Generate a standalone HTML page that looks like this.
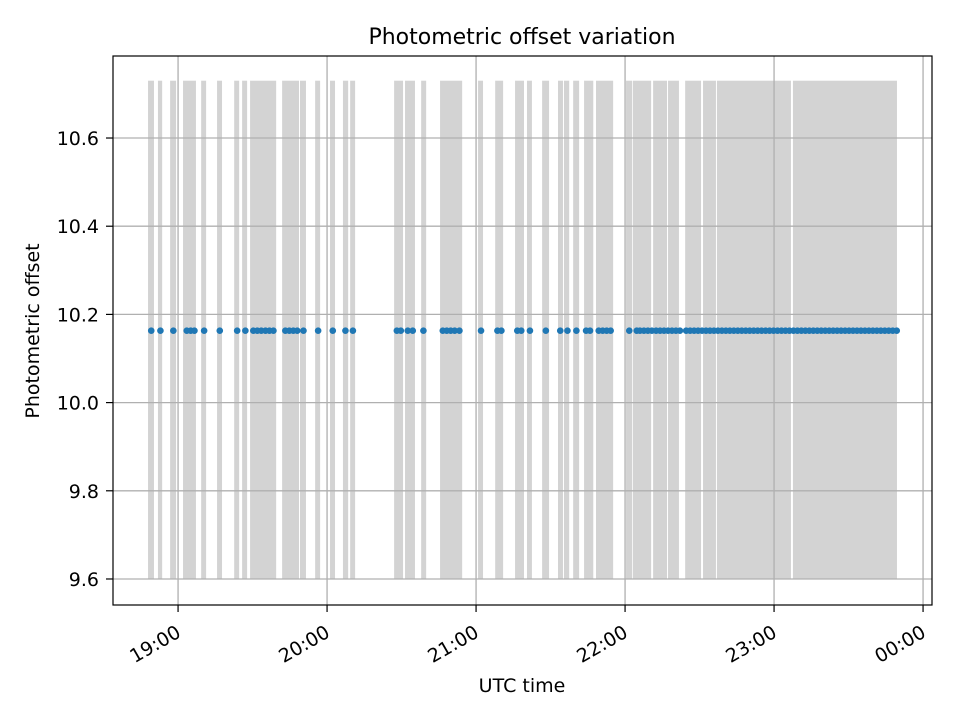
<!DOCTYPE html>
<html><head><meta charset="utf-8"><style>body{margin:0;background:#fff}svg{display:block;font-family:"DejaVu Sans","Liberation Sans",sans-serif}</style></head>
<body>
<svg id="chart" width="960" height="720" viewBox="0 0 960 720">
<rect x="0" y="0" width="960" height="720" fill="#fff"/>
<g id="spans"></g>
<g id="grid"></g>
<g id="points"></g>
<rect x="113" y="56" width="819" height="549" fill="none" stroke="#000" stroke-width="1.2"/>
<g id="axes"></g>
<text x="522" y="44" text-anchor="middle" font-size="22">Photometric offset variation</text>
<text x="522" y="692" text-anchor="middle" font-size="19">UTC time</text>
<text transform="translate(39,331) rotate(-90)" text-anchor="middle" font-size="19">Photometric offset</text>
</svg>
<script>
// time values in minutes after 18:00 UTC
const spanStart = [47.9,51.9,56.8,62.0,69.3,75.7,82.6,85.8,89.0,101.9,109.1,115.2,121.2,126.4,129.3,147.0,151.4,157.9,165.5,180.8,187.7,195.7,200.5,206.6,213.0,215.4,219.1,223.5,228.3,240.4,243.2,251.3,257.3,264.2,271.4,277.0,307.6];
const spanEnd   = [50.3,53.6,59.2,67.2,71.3,77.7,84.6,87.8,99.5,108.7,111.5,117.2,123.2,128.5,131.3,150.6,155.4,159.9,174.4,182.8,190.9,199.3,202.5,209.4,215.0,217.5,221.5,227.2,235.2,242.9,250.5,256.9,261.7,270.6,276.6,306.8,349.5];
const spanLow = 9.6, spanHigh = 10.73;
const pointTimes = [49.2,52.9,58.1,63.5,65.1,66.6,70.5,76.8,83.8,87.1,90.3,91.9,93.5,95.2,96.8,98.4,103.2,104.8,106.4,108.0,110.5,116.4,122.3,127.4,130.4,
148.1,149.7,152.5,154.5,158.8,166.6,168.2,169.8,171.4,173.3,182.0,188.6,190.2,196.6,198.2,201.7,208.1,213.9,216.8,220.4,224.3,225.9,229.4,231.0,232.6,234.2,241.7,244.7,
246.0,247.6,249.2,250.8,252.5,254.1,255.7,257.3,258.9,260.5,262.1,
264.6,266.2,267.8,269.4,271.0,272.6,274.2,275.8,277.4,279.0,280.6,282.2,283.8,285.4,287.0,288.6,290.2,291.8,293.4,295.0,296.6,298.2,299.8,301.4,303.0,304.6,306.2,307.8,309.4,311.0,312.6,314.2,315.8,317.4,319.0,320.6,322.2,323.8,325.4,327.0,328.6,330.2,331.8,333.4,335.0,336.6,338.2,339.8,341.4,343.0,344.6,346.2,347.8,349.4];
const pointValues = pointTimes.map(()=>10.163);
const xTickValues = [60,120,180,240,300,360];
const xTickLabels = ["19:00","20:00","21:00","22:00","23:00","00:00"];
const yTickValues = [9.6,9.8,10.0,10.2,10.4,10.6];
const yTickLabels = ["9.6","9.8","10.0","10.2","10.4","10.6"];

const L=113,R=932,T=56,B=605;
const xMin=33.8,xMax=363.6,yMin=9.541,yMax=10.786;
const X=v=>L+(v-xMin)/(xMax-xMin)*(R-L);
const Y=v=>B-(v-yMin)/(yMax-yMin)*(B-T);
const NS="http://www.w3.org/2000/svg";
function mk(tag,attrs,parent){const e=document.createElementNS(NS,tag);for(const k in attrs)e.setAttribute(k,attrs[k]);parent.appendChild(e);return e;}
const gs=document.getElementById('spans'),gg=document.getElementById('grid'),gp=document.getElementById('points'),ga=document.getElementById('axes');
spanStart.forEach((s,i)=>{
  const r=mk('rect',{x:X(s),y:Y(spanHigh),width:Math.max(1,X(spanEnd[i])-X(s)),height:Y(spanLow)-Y(spanHigh),fill:'#d3d3d3'},gs);
  
  
});
xTickValues.forEach((v,i)=>{
  const x=X(v);
  const g=mk('line',{x1:x,x2:x,y1:T,y2:B,stroke:'#b0b0b0','stroke-width':1.3},gg);
  
  
  const t=mk('line',{x1:x,x2:x,y1:B,y2:B+7,stroke:'#000','stroke-width':1.2},ga);
  
  
  const lb=mk('text',{transform:`translate(${x+4},${B+31}) rotate(-30)`,'text-anchor':'end','font-size':19},ga);
  lb.textContent=xTickLabels[i];
  
  
});
yTickValues.forEach((v,i)=>{
  const y=Y(v);
  const g=mk('line',{x1:L,x2:R,y1:y,y2:y,stroke:'#b0b0b0','stroke-width':1.3},gg);
  
  
  const t=mk('line',{x1:L-7,x2:L,y1:y,y2:y,stroke:'#000','stroke-width':1.2},ga);
  
  
  const lb=mk('text',{x:L-14,y:y+7,'text-anchor':'end','font-size':19},ga);
  lb.textContent=yTickLabels[i];
  
  
});
pointTimes.forEach((t,i)=>{
  const c=mk('circle',{cx:X(t),cy:Y(pointValues[i]),r:3.3,fill:'#1f77b4'},gp);
  
  
});
</script>
</body></html>
